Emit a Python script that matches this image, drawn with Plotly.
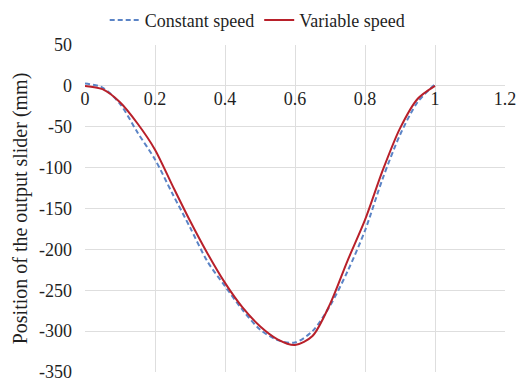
import plotly.graph_objects as go

t_values = [0, 0.05, 0.1, 0.15, 0.2, 0.25, 0.3, 0.35, 0.4, 0.45, 0.5,
            0.55, 0.6, 0.65, 0.7, 0.75, 0.8, 0.85, 0.9, 0.95, 1.0]
constant_speed = [3, -2, -22, -57, -90, -132, -173, -215, -245, -274, -298,
                  -311, -314, -300, -269, -227, -177, -114, -60, -20, 2]
variable_speed = [0, -4, -20, -46, -78, -122, -165, -205, -241, -271, -294,
                  -310, -317, -306, -267, -214, -164, -104, -52, -16, 0]

x_ticks = [0, 0.2, 0.4, 0.6, 0.8, 1, 1.2]
x_tick_labels = ["0", "0.2", "0.4", "0.6", "0.8", "1", "1.2"]
y_ticks = [50, 0, -50, -100, -150, -200, -250, -300, -350]
y_tick_labels = ["50", "0", "-50", "-100", "-150", "-200", "-250", "-300", "-350"]

FONT = "Liberation Serif"
TXT = "#1f1f1f"
GRID = "#dedede"

fig = go.Figure()
fig.add_trace(go.Scatter(
    x=t_values, y=constant_speed, mode="lines", name="Constant speed",
    line=dict(color="#5b84c6", width=2, dash="5px,3px", shape="spline", smoothing=0.8),
))
fig.add_trace(go.Scatter(
    x=t_values, y=variable_speed, mode="lines", name="Variable speed",
    line=dict(color="#b8202a", width=2, shape="spline", smoothing=0.8),
))

fig.update_layout(
    width=526, height=381,
    margin=dict(l=85, r=21, t=45, b=9, autoexpand=False),
    paper_bgcolor="white", plot_bgcolor="white",
    font=dict(family=FONT, size=18, color=TXT),
    showlegend=True,
    legend=dict(orientation="h", x=0.41, xanchor="center",
                yref="container", y=0.995, yanchor="top",
                font=dict(family=FONT, size=18, color=TXT), itemwidth=30,
                bgcolor="rgba(0,0,0,0)"),
    xaxis=dict(range=[0, 1.2], tickvals=x_ticks, ticktext=x_tick_labels,
               showgrid=True, gridcolor=GRID, gridwidth=1, zeroline=False,
               showline=False, ticks="", anchor="free", position=0.875,
               side="bottom", automargin=False, ticklabeloverflow="allow",
               tickfont=dict(family=FONT, size=18, color=TXT)),
    yaxis=dict(range=[-350, 50], tickvals=y_ticks, ticktext=y_tick_labels,
               showgrid=True, gridcolor=GRID, gridwidth=1, zeroline=False,
               showline=False, ticks="", automargin=False, ticklabelstandoff=12,
               ticklabeloverflow="allow",
               title=dict(text="Position of the output slider (mm)",
                          font=dict(family=FONT, size=20, color=TXT), standoff=6),
               tickfont=dict(family=FONT, size=18, color=TXT)),
)

fig.write_html("out.html")
